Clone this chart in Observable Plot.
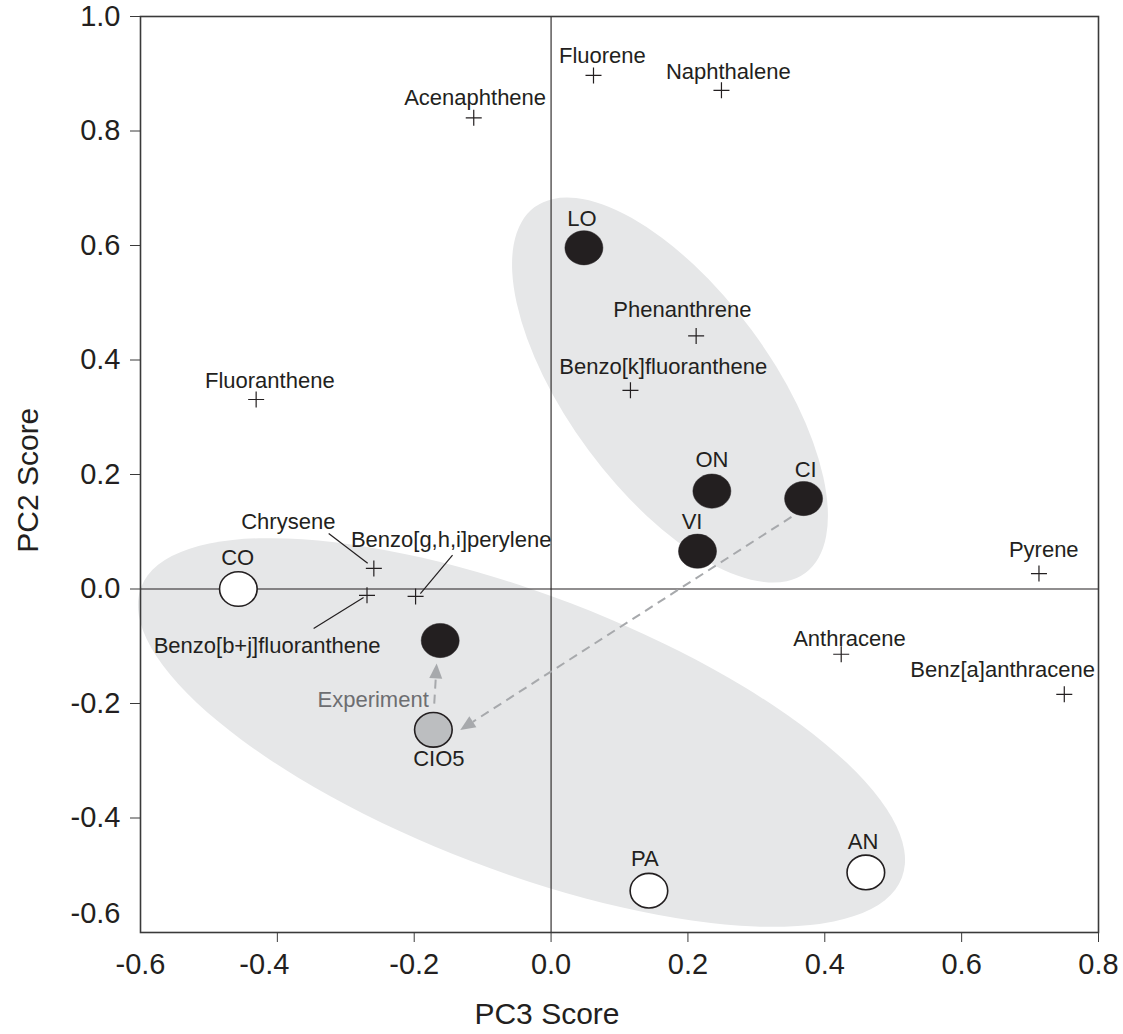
<!DOCTYPE html>
<html>
<head>
<meta charset="utf-8">
<script src="https://cdn.jsdelivr.net/npm/d3@7"></script>
<script src="https://cdn.jsdelivr.net/npm/@observablehq/plot@0.6"></script>
<style>
  html, body { margin: 0; padding: 0; background: #fff; }
  #chart svg { display: block; }
</style>
</head>
<body>
<div id="chart"></div>
<script>
// ---------------- data ----------------
const xTicks = [-0.6, -0.4, -0.2, 0.0, 0.2, 0.4, 0.6, 0.8];
const yTicks = [-0.6, -0.4, -0.2, 0.0, 0.2, 0.4, 0.6, 0.8, 1.0];

// PAH loadings (plus markers)
const compounds = ["Fluorene", "Naphthalene", "Acenaphthene", "Fluoranthene", "Phenanthrene",
  "Benzo[k]fluoranthene", "Chrysene", "Benzo[b+j]fluoranthene", "Benzo[g,h,i]perylene",
  "Pyrene", "Anthracene", "Benz[a]anthracene"];
const compoundPC3 = [0.062, 0.249, -0.113, -0.431, 0.212, 0.116, -0.259, -0.269, -0.198, 0.713, 0.424, 0.750];
const compoundPC2 = [0.897, 0.871, 0.823, 0.331, 0.442, 0.347, 0.036, -0.011, -0.013, 0.027, -0.114, -0.184];
// label anchor points (data units)
const compoundLabelPC3 = [0.075, 0.259, -0.111, -0.411, 0.192, 0.164, -0.384, -0.415, -0.146, 0.720, 0.436, 0.660];
const compoundLabelPC2 = [0.931, 0.904, 0.858, 0.364, 0.488, 0.387, 0.117, -0.099, 0.086, 0.069, -0.087, -0.141];

// leader lines from labels to markers
const leaderX1 = [-0.325, -0.144, -0.347];
const leaderY1 = [0.097, 0.059, -0.069];
const leaderX2 = [-0.268, -0.191, -0.274];
const leaderY2 = [0.045, -0.008, -0.015];

// site scores (circles)
const sites = ["LO", "ON", "CI", "VI", "", "CIO5", "CO", "PA", "AN"];
const siteType = ["dark", "dark", "dark", "dark", "dark", "grey", "light", "light", "light"];
const sitePC3 = [0.048, 0.235, 0.369, 0.214, -0.162, -0.172, -0.457, 0.143, 0.460];
const sitePC2 = [0.596, 0.171, 0.158, 0.066, -0.090, -0.246, 0.000, -0.527, -0.495];
const siteLabelPC3 = [0.045, 0.235, 0.372, 0.206, null, -0.164, -0.458, 0.137, 0.456];
const siteLabelPC2 = [0.647, 0.225, 0.208, 0.117, null, -0.297, 0.055, -0.471, -0.442];

// grey cluster ellipses: centre (data), semi-axes (in PC3 units), tilt (deg, screen)
const clusterPC3 = [0.1745, -0.0425];
const clusterPC2 = [0.3467, -0.2515];
const clusterMajor = [0.3325, 0.595];
const clusterMinor = [0.148, 0.202];
const clusterTilt = [53.5, 20.9];

// dashed arrows
const arrowX1 = [0.352, -0.1700];
const arrowY1 = [0.125, -0.2010];
const arrowX2 = [-0.132, -0.1665];
const arrowY2 = [-0.247, -0.1310];

const experimentLabel = {text: "Experiment", x: -0.260, y: -0.193};

// ---------------- tables ----------------
const compoundRows = compounds.map((name, i) => ({
  name, x: compoundPC3[i], y: compoundPC2[i], lx: compoundLabelPC3[i], ly: compoundLabelPC2[i]
}));
const leaderRows = leaderX1.map((d, i) => ({x1: d, y1: leaderY1[i], x2: leaderX2[i], y2: leaderY2[i]}));
const siteRows = sites.map((name, i) => ({
  name, type: siteType[i], x: sitePC3[i], y: sitePC2[i], lx: siteLabelPC3[i], ly: siteLabelPC2[i]
}));

// ---------------- symbols ----------------
function ellipseSymbol(ratio) {
  return {
    draw(ctx, size) {
      const r = Math.sqrt(size / Math.PI);
      const rx = r, ry = r * ratio, k = 0.5523;
      ctx.moveTo(rx, 0);
      ctx.bezierCurveTo(rx, k * ry, k * rx, ry, 0, ry);
      ctx.bezierCurveTo(-k * rx, ry, -rx, k * ry, -rx, 0);
      ctx.bezierCurveTo(-rx, -k * ry, -k * rx, -ry, 0, -ry);
      ctx.bezierCurveTo(k * rx, -ry, rx, -k * ry, rx, 0);
      ctx.closePath();
    }
  };
}
const plusSymbol = {
  draw(ctx, size) {
    const r = Math.sqrt(size / Math.PI);
    ctx.moveTo(-r, 0); ctx.lineTo(r, 0);
    ctx.moveTo(0, -r); ctx.lineTo(0, r);
  }
};

const NS = "http://www.w3.org/2000/svg";

// custom render: tilted grey ellipses
function clusterShading(index, scales) {
  const sx = scales.x, sy = scales.y;
  const g = document.createElementNS(NS, "g");
  for (let i = 0; i < clusterPC3.length; i++) {
    const cx = sx(clusterPC3[i]), cy = sy(clusterPC2[i]);
    const a = sx(clusterPC3[i] + clusterMajor[i]) - sx(clusterPC3[i]);
    const b = sx(clusterPC3[i] + clusterMinor[i]) - sx(clusterPC3[i]);
    const e = document.createElementNS(NS, "ellipse");
    e.setAttribute("cx", 0); e.setAttribute("cy", 0);
    e.setAttribute("rx", a); e.setAttribute("ry", b);
    e.setAttribute("transform", `translate(${cx},${cy}) rotate(${clusterTilt[i]})`);
    e.setAttribute("fill", "#e6e7e8");
    g.appendChild(e);
  }
  return g;
}

// custom render: dashed arrows with filled heads
function dashedArrows(index, scales) {
  const sx = scales.x, sy = scales.y;
  const g = document.createElementNS(NS, "g");
  const col = "#a7a9ac", headLen = 15, headHalf = 6.5;
  for (let i = 0; i < arrowX1.length; i++) {
    const x1 = sx(arrowX1[i]), y1 = sy(arrowY1[i]);
    const x2 = sx(arrowX2[i]), y2 = sy(arrowY2[i]);
    const L = Math.hypot(x2 - x1, y2 - y1);
    const ux = (x2 - x1) / L, uy = (y2 - y1) / L;
    const bx = x2 - ux * headLen, by = y2 - uy * headLen;
    const line = document.createElementNS(NS, "line");
    line.setAttribute("x1", x1); line.setAttribute("y1", y1);
    line.setAttribute("x2", bx); line.setAttribute("y2", by);
    line.setAttribute("stroke", col);
    line.setAttribute("stroke-width", 2);
    line.setAttribute("stroke-dasharray", "9,6");
    g.appendChild(line);
    const head = document.createElementNS(NS, "polygon");
    const px = -uy, py = ux;
    head.setAttribute("points",
      `${x2},${y2} ${bx + px * headHalf},${by + py * headHalf} ${bx - px * headHalf},${by - py * headHalf}`);
    head.setAttribute("fill", col);
    g.appendChild(head);
  }
  return g;
}

const fmt = d => d.toFixed(1);
const axisStyle = {fontSize: 29, tickFormat: fmt, label: null, stroke: "#3a3a3a"};

const chart = Plot.plot({
  width: 1123,
  height: 1034,
  marginTop: 16,
  marginRight: 25,
  marginBottom: 102,
  marginLeft: 140,
  x: {domain: [-0.6, 0.8]},
  y: {domain: [-0.6, 1.0]},
  style: {
    fontFamily: "'Liberation Sans', Arial, Helvetica, sans-serif",
    fontSize: "22px",
    color: "#231f20",
    background: "#ffffff",
    overflow: "visible"
  },
  marks: [
    clusterShading,
    Plot.ruleY([0], {stroke: "#231f20", strokeWidth: 1.1}),
    Plot.ruleX([0], {stroke: "#231f20", strokeWidth: 1.1}),
    Plot.frame({stroke: "#3a3a3a", strokeWidth: 1.6}),

    // x axis
    Plot.axisX({...axisStyle, ticks: xTicks.filter(d => d !== -0.6 && d !== -0.4), tickSize: 10, tickPadding: 11}),
    Plot.axisX({...axisStyle, ticks: [-0.4], tickSize: 10, fill: "none"}),
    Plot.axisX({...axisStyle, ticks: [-0.4], tickSize: 0, tickPadding: 21, dx: -13}),
    Plot.axisX({...axisStyle, ticks: [-0.6], tickSize: 0, tickPadding: 21}),
    // y axis
    Plot.axisY({...axisStyle, ticks: yTicks.filter(d => d !== -0.6), tickSize: 10, tickPadding: 10}),
    Plot.axisY({...axisStyle, ticks: [-0.6], tickSize: 0, tickPadding: 20, dy: -19}),

    // axis titles
    Plot.text(["PC3 Score"], {x: -0.006, frameAnchor: "bottom", dy: 82, textAnchor: "middle", lineAnchor: "middle", fontSize: 30, fill: "#231f20"}),
    Plot.text(["PC2 Score"], {y: 0.19, frameAnchor: "left", dx: -112, rotate: -90, textAnchor: "middle", lineAnchor: "middle", fontSize: 30, fill: "#231f20"}),

    // leader lines
    Plot.link(leaderRows, {x1: "x1", y1: "y1", x2: "x2", y2: "y2", stroke: "#231f20", strokeWidth: 1.2}),

    // arrows
    dashedArrows,

    // compound markers
    Plot.dot(compoundRows, {x: "x", y: "y", symbol: plusSymbol, r: 8, stroke: "#231f20", strokeWidth: 1.2, fill: "none"}),
    Plot.text(compoundRows, {x: "lx", y: "ly", text: "name", fontSize: 22, fill: "#231f20"}),

    // site circles
    Plot.dot(siteRows.filter(d => d.type === "dark"), {x: "x", y: "y", symbol: ellipseSymbol(0.9), r: 19, fill: "#231f20", stroke: "#231f20", strokeWidth: 0.5}),
    Plot.dot(siteRows.filter(d => d.type === "light"), {x: "x", y: "y", symbol: ellipseSymbol(0.92), r: 18.8, fill: "#ffffff", stroke: "#231f20", strokeWidth: 1.6}),
    Plot.dot(siteRows.filter(d => d.type === "grey"), {x: "x", y: "y", symbol: ellipseSymbol(0.92), r: 18.8, fill: "#bcbec0", stroke: "#231f20", strokeWidth: 1.6}),
    Plot.text(siteRows.filter(d => d.name !== ""), {x: "lx", y: "ly", text: "name", fontSize: 22, fill: "#231f20"}),

    Plot.text([experimentLabel], {x: "x", y: "y", text: "text", fontSize: 22, fill: "#6d6e71"})
  ]
});

document.getElementById("chart").appendChild(chart);
</script>
</body>
</html>
